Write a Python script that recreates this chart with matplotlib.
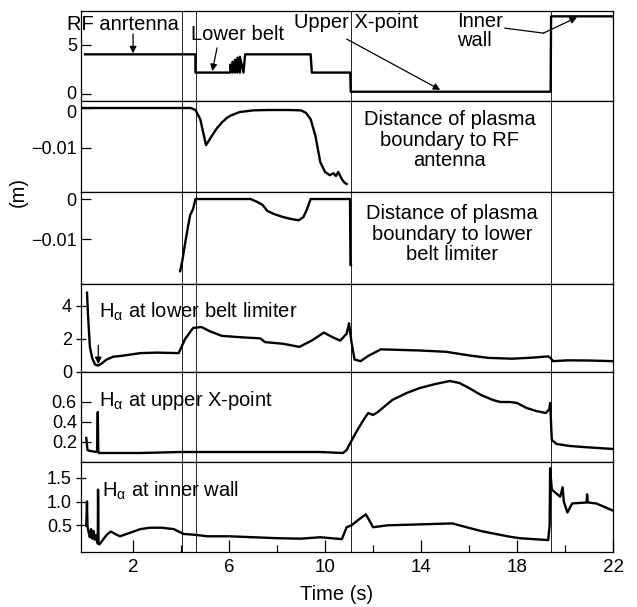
import matplotlib
matplotlib.use("Agg")
import matplotlib.pyplot as plt
import matplotlib.transforms as mtransforms
from matplotlib.ticker import FixedLocator, NullFormatter

plt.rcParams['font.family'] = ['Liberation Sans', 'DejaVu Sans']
plt.rcParams['mathtext.fontset'] = 'custom'
plt.rcParams['mathtext.rm'] = 'Liberation Sans'
plt.rcParams['mathtext.it'] = 'Liberation Sans'

# ---------------- data ----------------
# Panel 1: strike point / contact location (step trace)
t_pos = [0.0, 4.6, 4.6, 6.0, 6.05, 6.05, 6.15, 6.15, 6.25, 6.25, 6.35, 6.35, 6.45, 6.45, 6.6, 6.67,
         9.4, 9.45, 11.05, 11.07, 19.4, 19.42, 22.0]
v_pos = [4.05, 4.05, 2.2, 2.2, 2.2, 3.0, 2.2, 3.3, 2.2, 3.5, 2.2, 3.7, 2.2, 3.8, 2.2, 4.05,
         4.05, 2.2, 2.2, 0.26, 0.26, 7.9, 7.9]

# Panel 2: distance of plasma boundary to RF antenna (m)
t_rf = [-0.15, 4.4, 4.6, 4.8, 5.04, 5.3, 5.5, 5.65, 5.7, 5.8, 5.9, 6.1, 6.45, 7.0, 7.6, 8.5, 9.0,
        9.2, 9.4, 9.6, 9.8, 10.0, 10.2, 10.35, 10.45, 10.55, 10.7, 10.8, 10.9]
v_rf = [0.0, 0.0, -0.0005, -0.0028, -0.0093, -0.0068, -0.0050, -0.0040, -0.0036, -0.0031, -0.0025,
        -0.0018, -0.0010, -0.0006, -0.0005, -0.0005, -0.0006, -0.0012, -0.0028, -0.0070, -0.0135,
        -0.0160, -0.0168, -0.0163, -0.0170, -0.0160, -0.0178, -0.0186, -0.0190]

# Panel 3: distance of plasma boundary to lower belt limiter (m)
t_lb = [3.96, 4.05, 4.17, 4.3, 4.38, 4.5, 4.6, 6.9, 7.2, 7.4, 7.6, 7.9, 8.25, 8.6, 8.9, 9.1,
        9.25, 9.4, 11.04, 11.06, 11.08]
v_lb = [-0.018, -0.0155, -0.011, -0.0065, -0.004, -0.0025, 0.0, 0.0, -0.0008, -0.0015, -0.003,
        -0.0038, -0.0045, -0.005, -0.0053, -0.0045, -0.0025, 0.0, 0.0, -0.0165, -0.0165]

# Panel 4: H-alpha at lower belt limiter
t_ha1 = [0.08, 0.12, 0.2, 0.3, 0.42, 0.54, 0.7, 0.9, 1.17, 1.5, 2.3, 3.0, 3.9, 4.17, 4.5, 4.85,
         5.2, 5.7, 6.55, 7.3, 7.5, 8.25, 8.93, 9.44, 9.95, 10.3, 10.63, 10.9, 11.0, 11.1, 11.23,
         11.48, 11.8, 12.33, 13.0, 13.95, 15.05, 16.0, 16.8, 17.8, 18.7, 19.3, 19.38, 19.5,
         20.1, 21.0, 22.0]
v_ha1 = [4.8, 3.5, 1.5, 0.8, 0.42, 0.36, 0.5, 0.73, 0.9, 0.95, 1.12, 1.15, 1.12, 1.98, 2.65, 2.71,
         2.45, 2.17, 2.08, 2.02, 1.79, 1.69, 1.5, 1.88, 2.37, 2.1, 1.88, 2.3, 2.94, 1.8, 0.73,
         0.63, 0.95, 1.35, 1.32, 1.28, 1.2, 0.98, 0.83, 0.78, 0.85, 0.92, 0.85, 0.63, 0.68,
         0.67, 0.63]

# Panel 5: H-alpha at upper X-point
t_ha2 = [0.05, 0.1, 0.2, 0.5, 0.53, 0.55, 0.58, 1.0, 2.3, 4.0, 6.0, 8.0, 9.8, 10.75, 10.9, 11.05,
         11.3, 11.6, 11.8, 12.0, 12.2, 12.5, 12.8, 13.4, 13.95, 14.6, 15.2, 15.6, 16.0, 16.5,
         17.0, 17.3, 17.7, 18.0, 18.4, 18.8, 19.2, 19.35, 19.38, 19.45, 19.65, 20.2, 20.75, 22.0]
v_ha2 = [0.24, 0.12, 0.11, 0.1, 0.5, 0.1, 0.09, 0.09, 0.09, 0.1, 0.1, 0.1, 0.1, 0.09, 0.12, 0.19,
         0.3, 0.42, 0.49, 0.47, 0.5, 0.56, 0.62, 0.69, 0.74, 0.78, 0.81, 0.79, 0.74, 0.67,
         0.62, 0.6, 0.6, 0.59, 0.54, 0.51, 0.49, 0.53, 0.59, 0.22, 0.18, 0.16, 0.15, 0.13]

# Panel 6: H-alpha at inner wall
t_ha3 = [0.05, 0.08, 0.1, 0.15, 0.2, 0.25, 0.3, 0.35, 0.4, 0.45, 0.5, 0.53, 0.54, 0.56, 0.6, 0.75,
         0.9, 1.07, 1.25, 1.45, 1.8, 2.3, 2.7, 3.2, 3.7, 4.1, 4.6, 5.1, 6.0, 7.0, 8.0, 9.0, 9.8,
         10.7, 10.9, 11.1, 11.4, 11.7, 11.85, 12.0, 12.6, 13.95, 15.3, 16.5, 17.6, 18.1, 19.3,
         19.36, 19.38, 19.45, 19.8, 19.9, 19.95, 20.1, 20.3, 20.9, 20.92, 20.95, 21.3, 22.0]
v_ha3 = [0.5, 1.0, 0.48, 0.35, 0.25, 0.42, 0.22, 0.38, 0.2, 0.3, 0.15, 0.12, 1.25, 0.12, 0.1, 0.2,
         0.3, 0.37, 0.32, 0.27, 0.33, 0.42, 0.45, 0.45, 0.42, 0.32, 0.3, 0.27, 0.27, 0.25, 0.23,
         0.22, 0.25, 0.21, 0.46, 0.5, 0.62, 0.73, 0.6, 0.46, 0.5, 0.52, 0.54, 0.38, 0.27, 0.23,
         0.19, 0.5, 1.7, 1.25, 1.1, 1.3, 1.0, 0.77, 0.96, 0.98, 1.15, 0.98, 0.96, 0.81]

event_times = [4.04, 4.63, 11.07, 19.4]

x_major = [2, 6, 10, 14, 18, 22]
x_minor = [4, 8, 12, 16, 20]

yticks = [[0, 5], [0, -0.01], [0, -0.01], [0, 2, 4], [0.2, 0.4, 0.6], [0.5, 1.0, 1.5]]
yticklabels = [["0", "5"], ["0", "\u22120.01"], ["0", "\u22120.01"], ["0", "2", "4"],
               ["0.2", "0.4", "0.6"], ["0.5", "1.0", "1.5"]]
ylims = [(-0.68, 8.44), (-0.021, 0.00175), (-0.0212, 0.00175), (-0.03, 5.33), (0.0, 0.9), (-0.06, 1.83)]

# ---------------- figure ----------------
W, H = 637, 607
fig = plt.figure(figsize=(W / 100, H / 100), dpi=100)
axes = fig.subplots(6, 1, sharex=True,
                    gridspec_kw=dict(hspace=0, height_ratios=[90, 91, 92, 88, 90, 90]))
fig.subplots_adjust(left=81 / W, right=613 / W, top=1 - 11 / H, bottom=1 - 552 / H)

series = [(t_pos, v_pos), (t_rf, v_rf), (t_lb, v_lb), (t_ha1, v_ha1), (t_ha2, v_ha2), (t_ha3, v_ha3)]
tickdir = ['in', 'in', 'in', 'inout', 'in', 'inout']
tfs = 13
for i, ax in enumerate(axes):
    t, v = series[i]
    ax.plot(t, v, color='black', lw=1.7, solid_joinstyle='round')
    for te in event_times:
        ax.axvline(te, color='black', lw=0.6)
    ax.set_ylim(*ylims[i])
    ax.set_yticks(yticks[i])
    ax.set_yticklabels(yticklabels[i], fontsize=tfs)
    ax.tick_params(axis='y', direction=tickdir[i], length=7, width=0.9, pad=3)
    ax.tick_params(axis='x', which='both', bottom=False, top=False)
    for s in ax.spines.values():
        s.set_linewidth(0.9)

# nudge the two adjacent zero labels apart (as in the reference)
axes[0].get_yticklabels()[0].set_transform(
    axes[0].get_yticklabels()[0].get_transform()
    + mtransforms.ScaledTranslation(0, 2 / 100, fig.dpi_scale_trans))
axes[1].get_yticklabels()[0].set_transform(
    axes[1].get_yticklabels()[0].get_transform()
    + mtransforms.ScaledTranslation(0, -3 / 100, fig.dpi_scale_trans))

ax = axes[-1]
ax.set_xlim(-0.17, 22)
ax.xaxis.set_major_locator(FixedLocator(x_major))
ax.xaxis.set_minor_locator(FixedLocator(x_minor))
ax.xaxis.set_minor_formatter(NullFormatter())
ax.tick_params(axis='x', which='major', bottom=True, direction='in', length=9, width=0.9,
               labelsize=13.5, pad=5)
ax.tick_params(axis='x', which='minor', bottom=True, direction='in', length=5, width=0.9)


def px(x, y):
    return (x / W, 1 - y / H)


fs = 14.5
# panel 1 labels
fig.text(*px(67, 25), "RF anrtenna", fontsize=fs, va='center', ha='left')
fig.text(*px(191, 34), "Lower belt", fontsize=fs, va='center', ha='left')
fig.text(*px(294, 22), "Upper X-point", fontsize=fs, va='center', ha='left')
fig.text(*px(457, 31), "Inner\nwall", fontsize=fs, va='center', ha='left', linespacing=1.0)

a1 = axes[0]
ap = dict(arrowstyle='-|>', color='black', lw=0.9, mutation_scale=10, shrinkA=0, shrinkB=0)
a1.annotate('', xy=(2.0, 4.15), xytext=(2.0, 6.1), arrowprops=ap, annotation_clip=False)
a1.annotate('', xy=(5.3, 2.35), xytext=(5.5, 4.7), arrowprops=ap, annotation_clip=False)
a1.annotate('', xy=(14.8, 0.45), xytext=(10.9, 5.6), arrowprops=ap, annotation_clip=False)
a1.plot([17.5, 19.1], [6.7, 6.2], color='black', lw=0.9)
a1.annotate('', xy=(20.5, 7.8), xytext=(19.1, 6.2), arrowprops=ap, annotation_clip=False)

# panel 2/3 descriptions
fig.text(*px(450, 140), "Distance of plasma\nboundary to RF\nantenna", fontsize=fs,
         ha='center', va='center', linespacing=1.08)
fig.text(*px(452, 234), "Distance of plasma\nboundary to lower\nbelt limiter", fontsize=fs,
         ha='center', va='center', linespacing=1.08)

# H-alpha labels
fig.text(*px(99, 312), r"H$_{\alpha}$ at lower belt limiter", fontsize=fs, va='center', ha='left')
fig.text(*px(99, 401), r"H$_{\alpha}$ at upper X-point", fontsize=fs, va='center', ha='left')
fig.text(*px(102, 491), r"H$_{\alpha}$ at inner wall", fontsize=fs, va='center', ha='left')

# small arrow at Ha lower belt minimum
axes[3].annotate('', xy=(0.55, 0.45), xytext=(0.55, 1.6), arrowprops=ap, annotation_clip=False)

fig.text(*px(18, 192), "(m)", fontsize=fs, rotation=90, va='center', ha='center')
fig.text(*px(337, 595), "Time (s)", fontsize=fs, va='center', ha='center')

fig.savefig("out.png", dpi=100)
